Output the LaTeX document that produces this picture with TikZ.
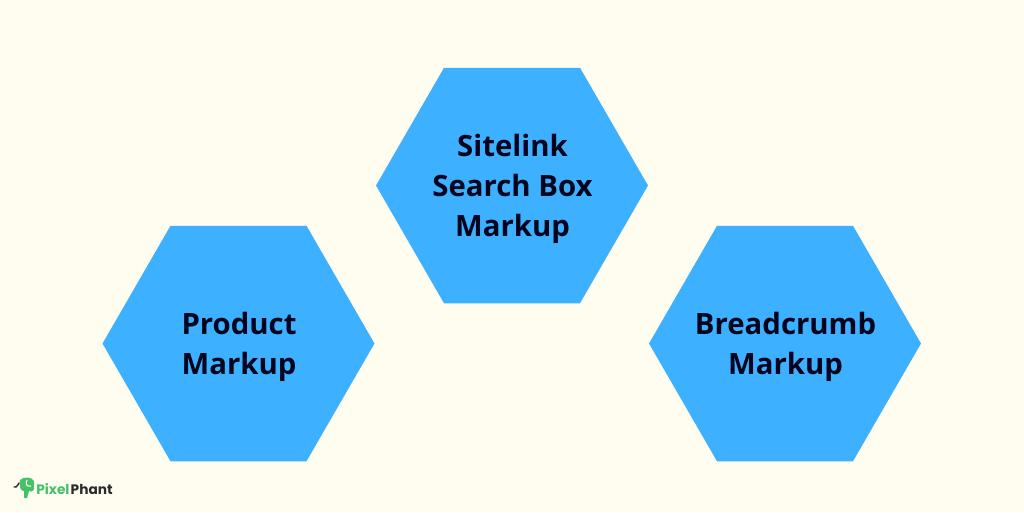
\documentclass[tikz,border=0pt]{standalone}
\usepackage{fontspec}
\setmainfont{Open Sans}
\newfontfamily\logofont{Poppins}
\usetikzlibrary{shapes.geometric}
\definecolor{paper}{HTML}{FFFCF0}
\definecolor{hexblue}{HTML}{3DB1FF}
\definecolor{inkblue}{HTML}{03051F}
\definecolor{logogreen}{HTML}{45C267}
\definecolor{logodark}{HTML}{2A2A2A}
\tikzset{
  hexbox/.style={regular polygon,regular polygon sides=6,fill=hexblue,
    minimum size=5.44cm,inner sep=0pt,outer sep=0pt},
  hexlabel/.style={inner sep=0pt,align=center,text=inkblue,
    font=\fontsize{16.7}{22.8}\selectfont\bfseries},
  logotext/.style={inner sep=0pt,anchor=base west,font=\fontsize{7.8}{10}\logofont\bfseries}
}
\begin{document}
\begin{tikzpicture}[x=0.02cm,y=-0.02cm]
  \useasboundingbox[fill=paper] (0,0) rectangle (1024,512);
  \node[hexbox] (sitelink) at (512,185.5) {};
  \node[hexbox] (product) at (238.5,343.5) {};
  \node[hexbox] (breadcrumb) at (785,343.5) {};
  \node[hexlabel] (sitelinktext) at (512.5,189) {Sitelink\\Search Box\\Markup};
  \node[hexlabel] (producttext) at (239,347) {Product\\Markup};
  \node[hexlabel] (breadcrumbtext) at (785.5,347) {Breadcrumb\\Markup};
  % logo
  \fill[logogreen] (20,480) .. controls (24,476) and (32,477) .. (34,481) -- (34,489) .. controls (33,492) and (30,492) .. (29,491)
    -- (27,498) -- (24,498) -- (24,491) .. controls (21,491) and (19,488) .. (20,480) -- cycle;
  \draw[logodark,line width=0.8pt,line cap=round] (19,483) .. controls (17,487) and (15,488) .. (14,487);
  \draw[paper,line width=0.6pt] (27,480) .. controls (25,484) and (27,487) .. (31,486);
  \node[logotext,text=logogreen] (logopixel) at (36,494) {Pixel};
  \node[logotext,text=logodark] (logophant) at (logopixel.base east) [anchor=base west,xshift=0.3pt] {Phant};
\end{tikzpicture}
\end{document}
